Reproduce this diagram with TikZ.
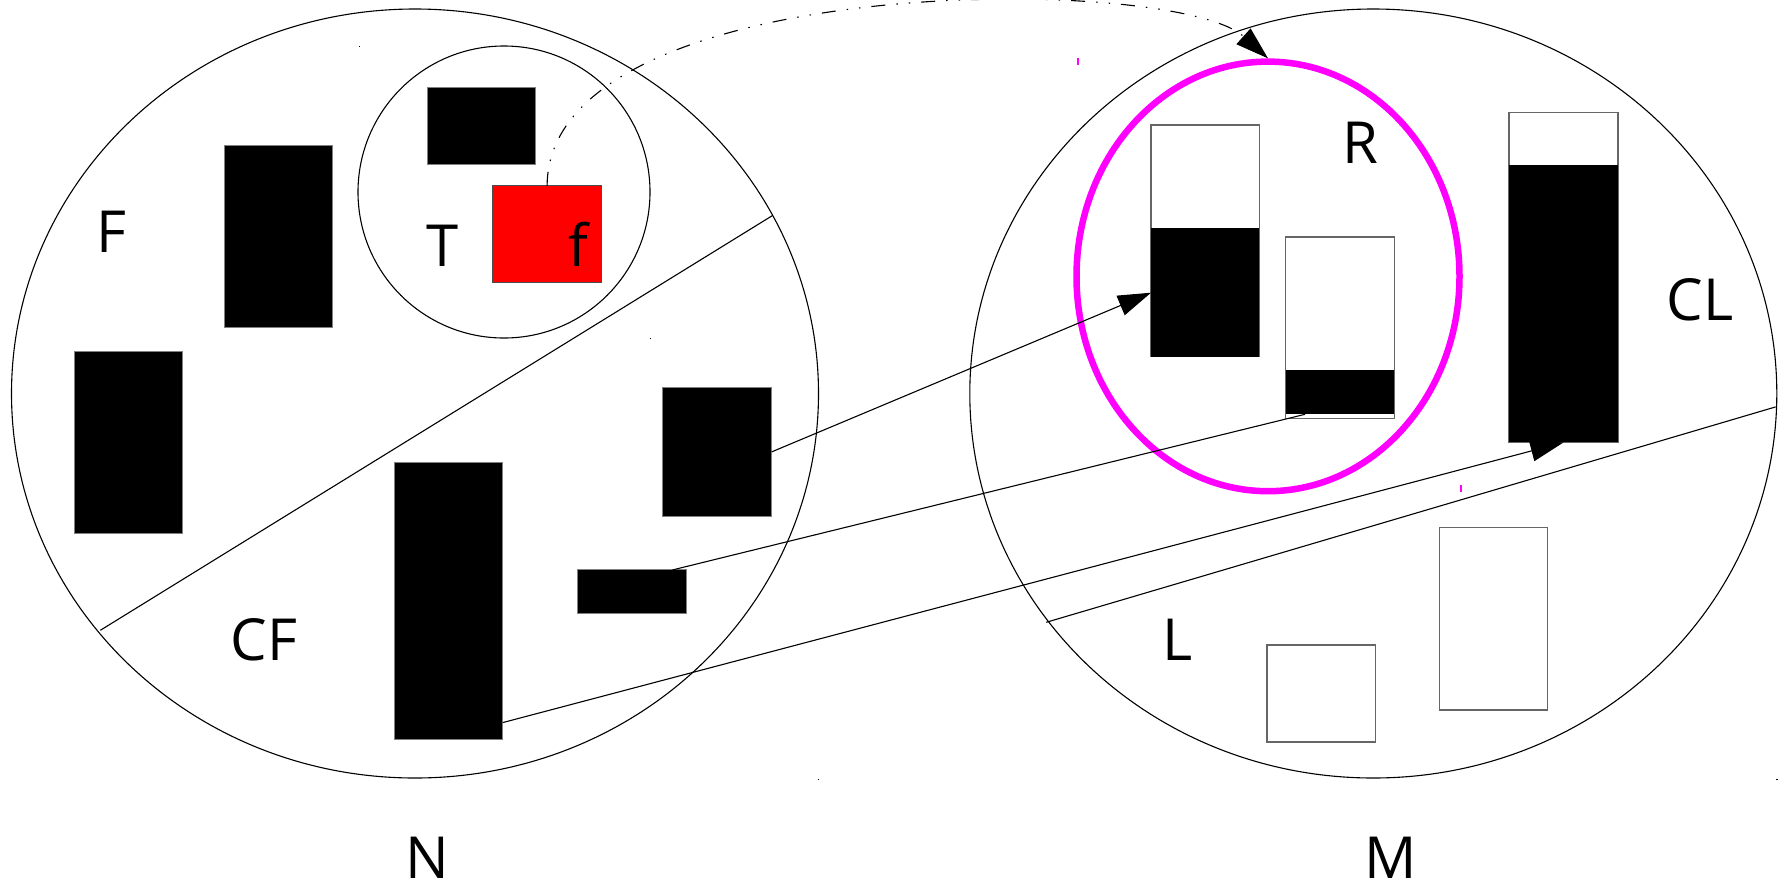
\documentclass[tikz,border=0pt]{standalone}
\usepackage{fontspec}
\setmainfont{Open Sans}
\usetikzlibrary{arrows.meta,shapes.geometric}
\definecolor{mag}{RGB}{255,0,255}
\begin{document}
\begin{tikzpicture}[x=1pt,y=-1pt,
  circ/.style={draw=black, line width=1.1pt},
  blk/.style={draw=gray, line width=1pt, fill=black, inner sep=0pt, outer sep=0pt},
  wht/.style={draw=gray!80!black, line width=1.4pt, fill=white, inner sep=0pt, outer sep=0pt},
  redbox/.style={draw=gray!60!black, line width=1.2pt, fill=red, inner sep=0pt, outer sep=0pt},
  lbl/.style={font=\fontsize{58}{62}\selectfont, inner sep=0pt},
  conn/.style={line width=1.1pt},
  tipped/.style={-{Triangle[length=33pt,width=21pt]}},
  dashdot/.style={dash pattern=on 14pt off 11pt on 1.5pt off 11pt on 1.5pt off 11pt}
]
\useasboundingbox (0,0) rectangle (1787,892);
% big circles
\draw[circ] (415,393.5) ellipse [x radius=403.5pt, y radius=384.5pt];
\draw[circ] (1373.3,393.5) ellipse [x radius=403.5pt, y radius=384.5pt];
% inner circle T
\draw[circ] (504,192) circle [radius=146pt];
% dividers
\coordinate (dl1) at (100.3,630.3);
\coordinate (dl2) at (772.7,215.4);
\coordinate (dr1) at (1046.2,622.3);
\coordinate (dr2) at (1775.6,406.9);
\draw[conn] (dl1) -- (dl2);
\draw[conn] (dr1) -- (dr2);
% left side boxes
\node[blk, minimum width=108.3pt, minimum height=76.3pt] (tTop) at (481.6,126) {};
\node[redbox, minimum width=109.4pt, minimum height=96.8pt] (red) at (547.1,234.2) {};
\node[blk, minimum width=108.3pt, minimum height=181.2pt] (fTall) at (278.7,236.5) {};
\node[blk, minimum width=108.3pt, minimum height=182.4pt] (fLeft) at (128.3,442.2) {};
\node[blk, minimum width=109.4pt, minimum height=128.8pt] (cfR) at (716.9,451.9) {};
\node[blk, minimum width=108.3pt, minimum height=277pt] (cfTall) at (448.5,601.2) {};
\node[blk, minimum width=108.3pt, minimum height=43.3pt] (cfFlat) at (632,591.6) {};
% right side boxes
\node[wht, minimum width=108.4pt, minimum height=231.7pt] (r1) at (1205.2,240.9) {};
\fill[black] (r1.south west) rectangle ([yshift=-102.6pt]r1.north east);
\node[wht, minimum width=108.9pt, minimum height=181.2pt] (r2) at (1340,327.7) {};
\fill[black] ([yshift=4.3pt]r2.south west) rectangle ([yshift=-132.7pt]r2.north east);
\node[wht, minimum width=109pt, minimum height=329.7pt] (cl) at (1563.5,277.6) {};
\fill[black] (cl.south west) rectangle ([yshift=-52.5pt]cl.north east);
\node[wht, minimum width=108.6pt, minimum height=97pt] (l1) at (1321.3,693.5) {};
\node[wht, minimum width=108.3pt, minimum height=182.3pt] (l2) at (1493.5,618.9) {};
% magenta ellipse R
\node[draw=mag, ellipse, line width=6.5pt, inner sep=0pt, minimum width=383pt, minimum height=429.6pt] (R) at (1268,276.4) {};
% connectors
\draw[conn, tipped] (cfR.east) -- ([yshift=-51.8pt]r1.west);
\draw[conn] ([xshift=40.4pt]cfFlat.north) -- ([xshift=-35pt, yshift=4pt]r2.south);
\draw[conn, tipped] ([yshift=-121.4pt]cfTall.east) -- (cl.south);
\draw[conn, dashdot, tipped] (red.north) .. controls (548,-29) and (1173,-27) .. (R.north);
% labels
\node[lbl] (labF) at (111,232) {F};
\node[lbl] (labT) at (443,246) {T};
\node[lbl] (labf) at (578,244) {f};
\node[lbl] (labCF) at (264,640) {CF};
\node[lbl] (labN) at (427,858) {N};
\node[lbl] (labR) at (1360,143) {R};
\node[lbl] (labCL) at (1700,300) {CL};
\node[lbl] (labL) at (1178,640) {L};
\node[lbl] (labM) at (1391,858) {M};
% small marks
\draw[mag, line width=1.2pt] (1078,58) -- (1078,65);
\draw[mag, line width=1.2pt] (1461,485) -- (1461,492);
\fill (358.5,45.5) rectangle (360,47);
\fill (649.5,337.5) rectangle (651,339);
\fill (817.5,778.5) rectangle (819,780);
\fill (1776,778.5) rectangle (1777.5,780);
\end{tikzpicture}
\end{document}
